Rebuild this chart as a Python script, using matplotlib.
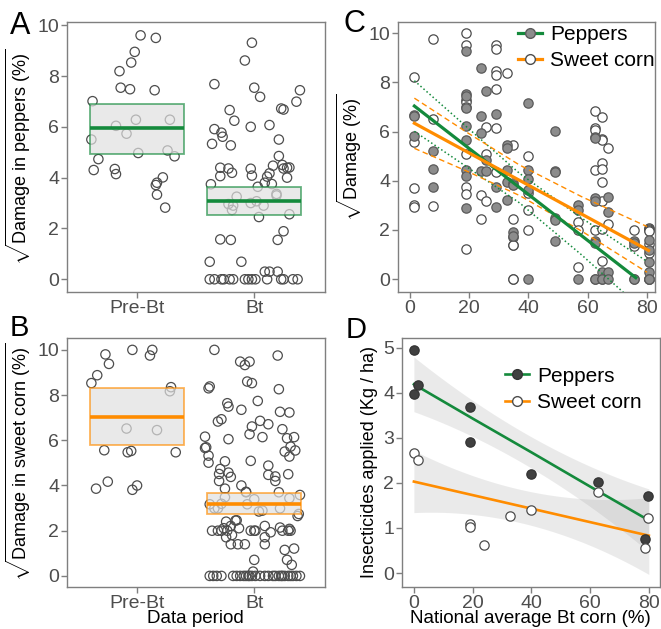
import matplotlib
matplotlib.use('Agg')
import matplotlib.pyplot as plt
import matplotlib.colors as mcolors
from matplotlib.lines import Line2D
import numpy as np

plt.rcParams['font.family'] = ['Liberation Sans', 'DejaVu Sans']
plt.rcParams['mathtext.fontset'] = 'custom'
plt.rcParams['mathtext.rm'] = 'Liberation Sans'
plt.rcParams['mathtext.it'] = 'Liberation Sans:italic'

# ---- data ----
periods = ['Pre-Bt', 'Bt']

# panel A: damage in peppers (jitter offset, value)
pre_a_dx = [0.03, 0.16, -0.02, -0.05, -0.15, -0.14, -0.06, 0.15, -0.38, -0.18, -0.01, 0.28, -0.39,
            -0.09, 0.01, 0.26, -0.33, 0.32, -0.37, -0.19, -0.18, 0.22, 0.17, 0.16, 0.17, 0.24]
pre_a_y = [9.6, 9.5, 8.95, 8.53, 8.19, 7.54, 7.48, 7.44, 7.01, 6.04, 6.28, 6.28, 5.50,
           5.73, 4.97, 5.07, 4.73, 4.84, 4.30, 4.34, 4.14, 4.01, 3.80, 3.71, 3.33, 2.82]
bt_a_dx = [-0.02, -0.08, -0.34, 0.00, 0.39, 0.05, 0.36, 0.23, 0.25, -0.21, -0.17, -0.34, -0.03, 0.13,
           -0.28, -0.27, -0.36, -0.20, 0.21, 0.21, 0.24, 0.16, 0.28, 0.25, 0.30, -0.29, -0.22, -0.03,
           -0.29, -0.19, -0.02, 0.13, 0.11, 0.28, -0.37, 0.09, 0.15, 0.03, 0.19, 0.19, -0.15, -0.22,
           -0.18, -0.19, -0.03, 0.02, 0.08, 0.30, 0.04, 0.25, -0.29, -0.20, 0.20, -0.38, -0.11, 0.09,
           0.13, 0.20,
           -0.38, -0.34, -0.28, -0.26, -0.21, -0.18, -0.08, -0.05, -0.02, 0.01, 0.11, 0.23, 0.25, 0.33, 0.37]
bt_a_y = [9.31, 8.61, 7.68, 7.54, 7.44, 7.18, 6.99, 6.72, 6.68, 6.66, 6.24, 5.91, 6.00, 6.07,
          5.77, 5.61, 5.33, 5.27, 5.50, 4.85, 4.50, 4.47, 4.39, 4.36, 4.40, 4.39, 4.36, 4.35,
          4.06, 4.19, 4.08, 4.17, 4.04, 4.00, 3.74, 3.80, 3.75, 3.64, 3.36, 3.30, 3.25, 2.96,
          2.90, 2.73, 3.00, 3.07, 2.90, 2.56, 2.45, 1.89, 1.57, 1.55, 1.55, 0.69, 0.69, 0.30,
          0.30, 0.30,
          0, 0, 0, 0, 0, 0, 0, 0, 0, 0, 0, 0, 0, 0, 0]
box_a_low = [4.95, 2.53]
box_a_mid = [5.94, 3.09]
box_a_high = [6.91, 3.64]

# panel B: damage in sweet corn
pre_b_dx = [-0.04, 0.13, 0.11, -0.27, -0.24, -0.34, -0.39, 0.29, 0.28, -0.09, 0.17, -0.28, -0.08,
            -0.05, 0.33, -0.35, -0.25, -0.04, 0.00]
pre_b_y = [10.0, 10.0, 9.75, 9.8, 9.38, 8.88, 8.53, 8.35, 8.17, 6.52, 6.45, 5.56, 5.47,
           5.53, 5.47, 3.86, 4.17, 3.81, 4.0]
bt_b_dx = [-0.34, -0.12, -0.08, -0.04, 0.20, -0.06, -0.02, -0.39, -0.38, 0.21,
           0.03, -0.23, -0.22, -0.11, 0.22, 0.30, -0.31, -0.28, 0.05, 0.12,
           -0.02, 0.24, -0.04, -0.42, -0.22, 0.07, 0.28, 0.34, -0.41, -0.42,
           0.31, 0.26, 0.35, 0.30, -0.39, -0.39, -0.25, -0.03, -0.29, -0.30,
           -0.22, -0.20, 0.12, 0.12, 0.29, 0.18, 0.18, -0.30, -0.11, -0.25,
           -0.07, -0.07, 0.21, 0.39, -0.25, 0.00, 0.30, -0.38, -0.34, -0.31,
           -0.28, -0.06, 0.07, 0.04, 0.22, 0.37, 0.38, -0.24, -0.16, -0.15,
           -0.20, -0.13, -0.26, 0.09, 0.30, 0.22,
           -0.36, -0.31, -0.28, -0.23, -0.03, 0.00, 0.01, 0.24, 0.29, 0.31,
           -0.19, -0.24, 0.09, 0.14, -0.20, -0.14, -0.08, 0.09, 0.26, 0.34,
           0.00, 0.28, 0.32, -0.01,
           -0.38, -0.35, -0.32, -0.28, -0.18, -0.15, -0.12, -0.09, -0.07, -0.05, -0.04, -0.02, 0.01,
           0.05, 0.09, 0.12, 0.16, 0.18, 0.21, 0.23, 0.24, 0.26, 0.29, 0.31, 0.33, 0.36, 0.39]
bt_b_y = [10.0, 9.48, 9.33, 9.48, 9.75, 8.6, 8.53, 8.30, 8.38, 8.26,
          7.74, 7.64, 7.49, 7.35, 7.26, 7.23, 6.83, 6.93, 6.86, 6.71,
          6.61, 6.49, 6.27, 6.16, 6.05, 6.14, 6.09, 6.14, 5.69, 5.66,
          5.72, 5.50, 5.55, 5.28, 5.32, 5.01, 5.07, 5.09, 4.73, 4.51,
          4.57, 4.38, 4.88, 4.47, 4.50, 4.40, 4.20, 4.20, 4.0, 3.86,
          3.72, 3.70, 3.70, 3.58, 3.48, 3.39, 3.44, 3.17, 2.99, 2.99,
          3.19, 3.17, 2.89, 2.85, 2.99, 2.65, 2.74, 2.40, 2.45, 2.46,
          2.21, 2.11, 2.11, 2.21, 2.08, 2.14,
          2.0, 2.0, 2.0, 2.0, 2.0, 2.0, 2.0, 2.0, 2.0, 2.0,
          1.81, 1.71, 1.71, 1.93, 1.40, 1.40, 1.40, 1.40, 1.15, 1.21,
          0.71, 0.71, 0.49, 0.19,
          0, 0, 0, 0, 0, 0, 0, 0, 0, 0, 0, 0, 0,
          0, 0, 0, 0, 0, 0, 0, 0, 0, 0, 0, 0, 0, 0]
box_b_low = [5.77, 2.72]
box_b_mid = [7.05, 3.20]
box_b_high = [8.30, 3.67]

# panel C: damage vs national Bt corn adoption
c_cols = [1.5, 7.7, 18.9, 23.9, 25.8, 29.0, 32.9, 34.7, 39.9, 48.8, 56.7, 62.5, 64.8, 66.7, 75.5, 80.5]
pep_c_vals = [[6.68, 6.62, 5.83],
              [5.23, 4.47, 3.74],
              [9.27, 7.53, 7.45, 6.96, 6.23, 5.64, 4.44, 4.2, 2.9],
              [8.58, 6.64, 5.96, 4.38],
              [7.67, 4.85, 4.38],
              [6.71, 3.73, 2.95],
              [5.46, 5.33, 4.42, 3.97, 3.23],
              [3.93, 3.81, 1.9, 1.76],
              [7.18, 4.44, 4.07, 3.63, 0],
              [6.04, 4.38, 4.34, 2.48, 2.41, 1.56],
              [3.02, 2.80, 0],
              [5.80, 5.73, 3.29, 3.16, 1.57, 1.49, 0, 0],
              [0.31, 0, 0],
              [3.36, 2.72, 0.31, 0],
              [1.57, 1.46, 0, 0],
              [1.6, 1.19, 0.68, 0.31, 0, 0, 0]]
corn_c_vals = [[8.24, 5.56, 3.70, 3.0, 2.93],
               [9.76, 6.5, 2.98],
               [10.0, 9.53, 7.3, 7.2, 7.0, 5.1, 3.75, 3.47, 1.23],
               [3.43, 2.44],
               [6.17, 5.1, 3.17],
               [9.53, 9.35, 8.48, 8.31, 7.74, 6.14, 4.34],
               [8.37],
               [5.46, 2.44, 1.71, 1.40, 1.37, 0, 0],
               [5.01, 3.5, 2.82, 1.98],
               [],
               [2.34, 1.98, 0.51],
               [6.82, 6.14, 6.07, 4.44, 1.98],
               [6.61, 5.69, 5.66, 4.72, 4.47, 3.97, 3.16, 2.03, 0.72],
               [5.33, 2.24],
               [1.98, 1.36],
               [2.1, 2.05, 2.0, 1.95, 1.44, 1.06, 0]]
c_fit_x = [1.5, 20, 37, 58, 80]
pep_c_hi = [8.07, 6.10, 4.30, 2.48, 0.72]
pep_c_lo = [6.01, 4.50, 3.10, 0.98, -1.40]
corn_c_hi = [7.36, 5.91, 4.64, 3.35, 2.14]
corn_c_lo = [5.32, 4.35, 3.40, 1.95, 0.28]
pep_c_line_x = [1.5, 76.2]
pep_c_line = [7.04, 0.06]
corn_c_line_x = [1.5, 80.5]
corn_c_line = [6.34, 1.17]

# panel D: insecticides applied
pep_d_x = [0, 0, 1.4, 19, 19, 39.9, 62.8, 79.8, 78.8]
pep_d_y = [4.95, 3.97, 4.17, 3.69, 2.90, 2.19, 2.03, 1.71, 0.76]
corn_d_x = [0, 1.4, 19, 19, 23.9, 32.8, 39.9, 62.8, 79.8, 78.8]
corn_d_y = [2.66, 2.51, 1.09, 1.03, 0.63, 1.27, 1.40, 1.79, 1.23, 0.56]
d_fit_x = [0, 20, 40, 60, 80]
pep_d_fit = [4.19, 3.43, 2.68, 1.92, 1.17]
pep_d_hi = [4.79, 3.85, 3.01, 2.37, 1.87]
pep_d_lo = [3.59, 3.01, 2.35, 1.47, 0.47]
corn_d_fit = [2.03, 1.73, 1.43, 1.13, 0.83]
corn_d_hi = [2.71, 2.18, 1.80, 1.63, 1.68]
corn_d_lo = [1.35, 1.28, 1.06, 0.63, -0.04]

green = '#148A3C'
orange = '#FF8C00'
tick_col = '#4D4D4D'
frame_col = '#7F7F7F'

fig = plt.figure(figsize=(6.61, 6.29), dpi=100)
axA = fig.add_axes([0.101, 0.5358, 0.390, 0.429])
axB = fig.add_axes([0.101, 0.0668, 0.390, 0.396])
axC = fig.add_axes([0.602, 0.5358, 0.389, 0.429])
axD = fig.add_axes([0.608, 0.0668, 0.390, 0.396])


def style(ax):
    for s in ax.spines.values():
        s.set_color(frame_col)
        s.set_linewidth(1.0)
    ax.tick_params(colors=frame_col, labelcolor=tick_col, labelsize=14, length=4, width=1, pad=1.5)


def box_panel(ax, pre_dx, pre_y, bt_dx, bt_y, low, mid, high, col):
    ax.scatter(0 + np.array(pre_dx), pre_y, s=45, facecolors='none', edgecolors='#4D4D4D',
               linewidths=0.9, zorder=2)
    ax.scatter(1 + np.array(bt_dx), bt_y, s=45, facecolors='none', edgecolors='#4D4D4D',
               linewidths=0.9, zorder=2)
    for i in range(2):
        ax.bar(i, high[i] - low[i], bottom=low[i], width=0.8,
               facecolor=mcolors.to_rgba('#E0E0E0', 0.7),
               edgecolor=mcolors.to_rgba(col, 0.65), linewidth=1.3, zorder=3)
        ax.hlines(mid[i], i - 0.4, i + 0.4, color=col, lw=2.6, zorder=4)
    ax.set_xticks([0, 1])
    ax.set_xticklabels(periods)
    ax.set_xlim(-0.6, 1.6)
    ax.set_yticks([0, 2, 4, 6, 8, 10])
    style(ax)


box_panel(axA, pre_a_dx, pre_a_y, bt_a_dx, bt_a_y, box_a_low, box_a_mid, box_a_high, green)
axA.set_ylim(-0.5, 10.12)
axA.set_ylabel(r'$\sqrt{\mathrm{Damage\ in\ peppers\ (\%)}}$', fontsize=13, labelpad=3)

box_panel(axB, pre_b_dx, pre_b_y, bt_b_dx, bt_b_y, box_b_low, box_b_mid, box_b_high, orange)
axB.set_ylim(-0.49, 10.53)
axB.set_ylabel(r'$\sqrt{\mathrm{Damage\ in\ sweet\ corn\ (\%)}}$', fontsize=13, labelpad=3)
axB.set_xlabel('Data period', fontsize=13.5, labelpad=-1)

# panel C
pep_cx, pep_cy, corn_cx, corn_cy = [], [], [], []
for x, vals in zip(c_cols, pep_c_vals):
    pep_cx += [x] * len(vals)
    pep_cy += vals
for x, vals in zip(c_cols, corn_c_vals):
    corn_cx += [x] * len(vals)
    corn_cy += vals
axC.scatter(corn_cx, corn_cy, s=45, facecolors='white', edgecolors='#4D4D4D', linewidths=0.9, zorder=2)
axC.scatter(pep_cx, pep_cy, s=45, facecolors='#8C8C8C', edgecolors='#5A5A5A', linewidths=0.9, zorder=2)
axC.plot(c_fit_x, pep_c_hi, color=green, ls=':', lw=1.1, zorder=3)
axC.plot(c_fit_x, pep_c_lo, color=green, ls=':', lw=1.1, zorder=3)
axC.plot(c_fit_x, corn_c_hi, color=orange, ls=(0, (4, 2.5)), lw=1.0, zorder=3)
axC.plot(c_fit_x, corn_c_lo, color=orange, ls=(0, (4, 2.5)), lw=1.0, zorder=3)
axC.plot(pep_c_line_x, pep_c_line, color=green, lw=2.3, zorder=4)
axC.plot(corn_c_line_x, corn_c_line, color=orange, lw=2.3, zorder=4)
axC.set_xlim(-4.05, 82.7)
axC.set_ylim(-0.52, 10.45)
axC.set_xticks([0, 20, 40, 60, 80])
axC.set_yticks([0, 2, 4, 6, 8, 10])
axC.set_ylabel(r'$\sqrt{\mathrm{Damage\ (\%)}}$', fontsize=13, labelpad=3)
style(axC)
hC = [Line2D([], [], color=green, lw=2.3, marker='o', ms=7, mfc='#8C8C8C', mec='#5A5A5A'),
      Line2D([], [], color=orange, lw=2.3, marker='o', ms=7, mfc='white', mec='#4D4D4D')]
axC.legend(hC, ['Peppers', 'Sweet corn'], loc='upper left', frameon=False, fontsize=15,
           handlelength=1.15, handletextpad=0.4, labelspacing=0.35, borderpad=0,
           borderaxespad=0, bbox_to_anchor=(0.467, 0.99))

# panel D
xs = np.linspace(0, 80, 100)
pep_hi_s = np.polyval(np.polyfit(d_fit_x, pep_d_hi, 2), xs)
pep_lo_s = np.polyval(np.polyfit(d_fit_x, pep_d_lo, 2), xs)
corn_hi_s = np.polyval(np.polyfit(d_fit_x, corn_d_hi, 2), xs)
corn_lo_s = np.polyval(np.polyfit(d_fit_x, corn_d_lo, 2), xs)
axD.fill_between(xs, pep_lo_s, pep_hi_s, color='#9A9A9A', alpha=0.2, lw=0, zorder=1)
axD.fill_between(xs, corn_lo_s, corn_hi_s, color='#9A9A9A', alpha=0.2, lw=0, zorder=1)
axD.plot(d_fit_x, pep_d_fit, color=green, lw=1.9, zorder=3)
axD.plot(d_fit_x, corn_d_fit, color=orange, lw=1.9, zorder=3)
axD.scatter(pep_d_x, pep_d_y, s=45, facecolors='#404040', edgecolors='#333333', linewidths=0.9, zorder=4)
axD.scatter(corn_d_x, corn_d_y, s=45, facecolors='white', edgecolors='#4D4D4D', linewidths=0.9, zorder=4)
axD.set_xlim(-4.09, 83.7)
axD.set_ylim(-0.31, 5.22)
axD.set_xticks([0, 20, 40, 60, 80])
axD.set_yticks([0, 1, 2, 3, 4, 5])
axD.set_xlabel('National average Bt corn (%)', fontsize=13.5, labelpad=-1)
axD.set_ylabel('Insecticides applied (Kg / ha)', fontsize=13, labelpad=4)
style(axD)
hD = [Line2D([], [], color=green, lw=1.9, marker='o', ms=7, mfc='#404040', mec='#333333'),
      Line2D([], [], color=orange, lw=1.9, marker='o', ms=7, mfc='white', mec='#4D4D4D')]
axD.legend(hD, ['Peppers', 'Sweet corn'], loc='upper left', frameon=False, fontsize=15,
           handlelength=1.15, handletextpad=0.4, labelspacing=0.35, borderpad=0,
           borderaxespad=0, bbox_to_anchor=(0.40, 0.885))

# panel letters
fig.text(0.015, 0.982, 'A', fontsize=22, va='top')
fig.text(0.015, 0.500, 'B', fontsize=21, va='top')
fig.text(0.520, 0.985, 'C', fontsize=22, va='top')
fig.text(0.523, 0.497, 'D', fontsize=21, va='top')

fig.savefig('out.png', dpi=100)
